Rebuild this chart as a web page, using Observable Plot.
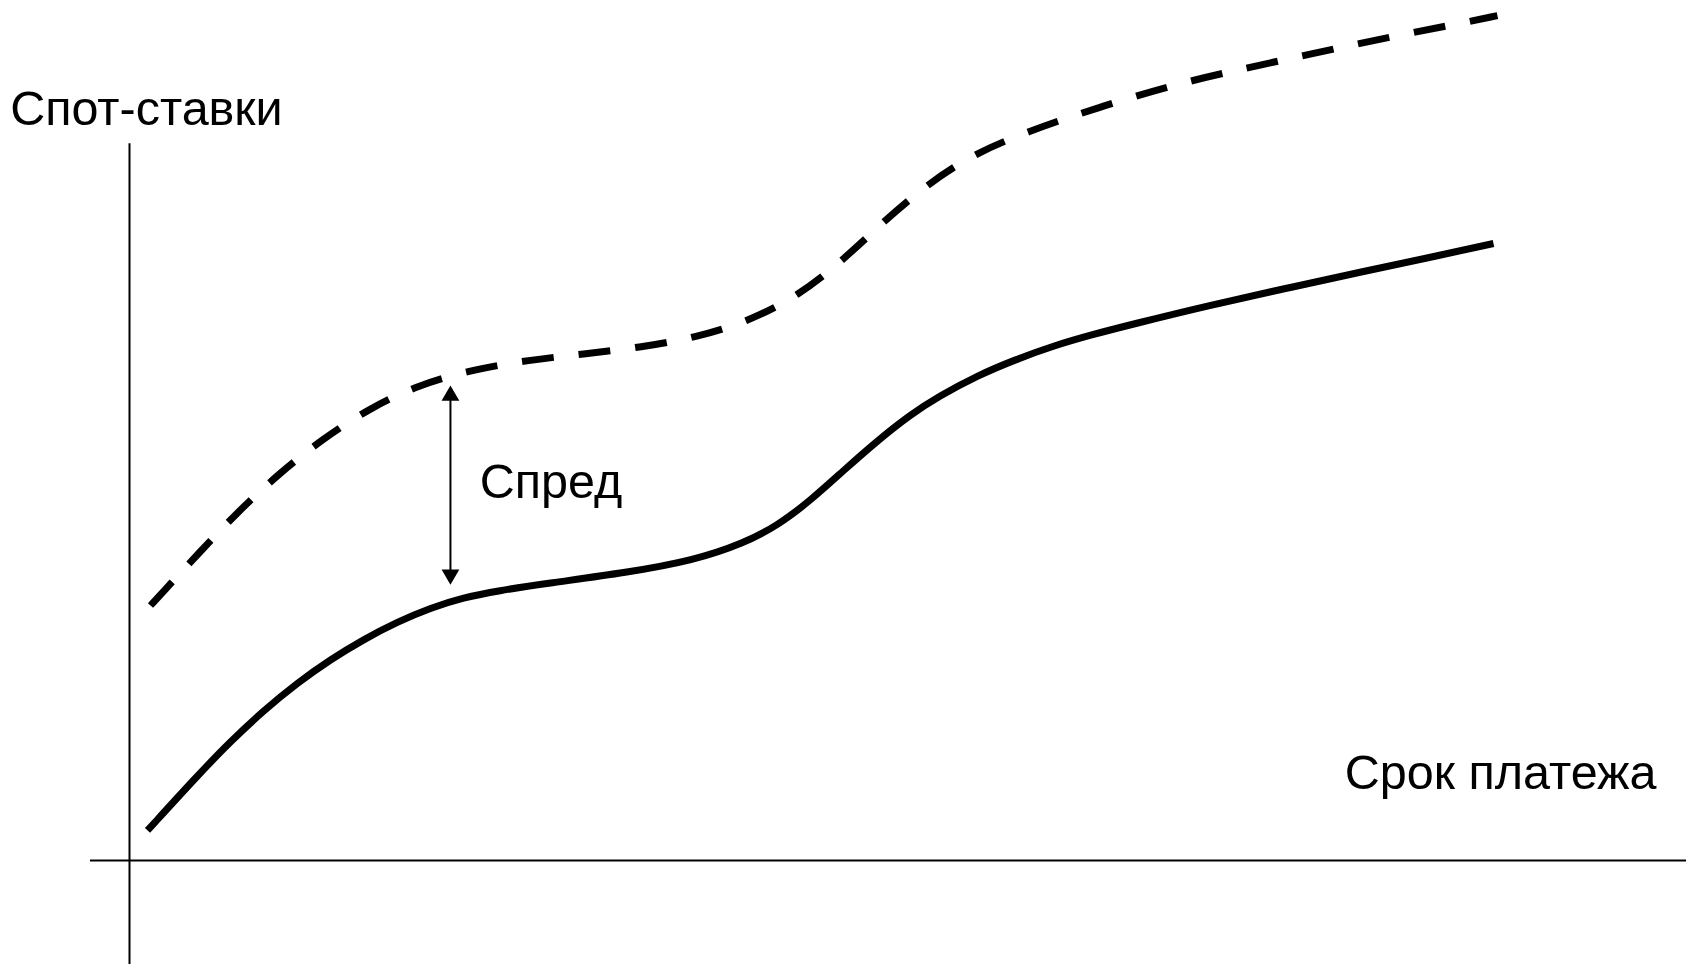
<!DOCTYPE html>
<html>
<head>
<meta charset="utf-8">
<script src="https://cdn.jsdelivr.net/npm/d3@7"></script>
<script src="https://cdn.jsdelivr.net/npm/@observablehq/plot@0.6"></script>
<style>
  html, body { margin: 0; padding: 0; background: #fff; }
  #chart svg { display: block; }
</style>
</head>
<body>
<div id="chart"></div>
<script>
// Schematic yield curves (arbitrary units): maturity vs spot rate
const solidMaturity = [0.132, 0.499, 0.740, 0.982, 1.232, 1.474, 1.716, 1.965, 2.207, 2.449, 2.698, 3.065, 3.651, 4.135, 4.501, 4.751, 4.993, 5.235, 5.484, 5.726, 5.931, 6.217, 6.496, 6.781, 7.060, 7.346, 7.911, 8.475, 9.040, 9.597, 10.0];
const solidRate     = [0.419, 1.186, 1.660, 2.090, 2.480, 2.805, 3.085, 3.330, 3.525, 3.668, 3.763, 3.868, 4.018, 4.186, 4.423, 4.674, 5.023, 5.442, 5.860, 6.223, 6.474, 6.767, 6.990, 7.186, 7.339, 7.479, 7.744, 7.981, 8.218, 8.441, 8.609];

const dashedMaturity = [0.154, 0.231, 0.502, 0.788, 1.096, 1.415, 1.756, 2.126, 2.522, 2.925, 3.328, 3.739, 4.150, 4.534, 4.901, 5.224, 5.517, 5.832, 6.173, 6.562, 7.141, 7.720, 8.123, 8.526, 8.930, 9.333, 9.736, 10.029];
const dashedRate     = [3.558, 3.718, 4.277, 4.856, 5.400, 5.881, 6.307, 6.642, 6.851, 6.983, 7.067, 7.158, 7.297, 7.521, 7.876, 8.365, 8.895, 9.411, 9.844, 10.158, 10.535, 10.855, 11.030, 11.197, 11.365, 11.525, 11.672, 11.790];

// Spread arrow (maturity, from rate, to rate)
const spreadArrow = [{x: 2.353, y1: 3.85, y2: 6.625}];

// Axis extents
const xAxisExtent = {x1: -0.286, x2: 11.42, y: 0};
const yAxisExtent = {y1: -1.45, y2: 10.0, x: 0};

// Labels
const labelTexts = ["Спот-ставки", "Спред", "Срок платежа"];
const labelX = [-0.875, 2.568, 8.91];
const labelY = [10.265, 5.063, 1.004];
const labels = labelTexts.map((t, i) => ({text: t, x: labelX[i], y: labelY[i]}));

const solid = solidMaturity.map((x, i) => ({x, y: solidRate[i]}));
const dashed = dashedMaturity.map((x, i) => ({x, y: dashedRate[i]}));

const chart = Plot.plot({
  width: 1686,
  height: 964,
  margin: 0,
  x: {domain: [0, 10], range: [129, 1493], axis: null},
  y: {domain: [0, 12], range: [860, 0], axis: null},
  style: {background: "#fff", overflow: "visible", fontFamily: "'Liberation Sans', Arial, sans-serif"},
  marks: [
    Plot.ruleY([xAxisExtent], {y: "y", x1: "x1", x2: "x2", stroke: "#000", strokeWidth: 2}),
    Plot.ruleX([yAxisExtent], {x: "x", y1: "y1", y2: "y2", stroke: "#000", strokeWidth: 2}),
    Plot.line(solid, {x: "x", y: "y", curve: "basis", stroke: "#000", strokeWidth: 7, strokeLinecap: "butt"}),
    Plot.line(dashed, {x: "x", y: "y", curve: "basis", stroke: "#000", strokeWidth: 7, strokeLinecap: "butt", strokeDasharray: "32,25"}),
    Plot.ruleX(spreadArrow, {x: "x", y1: (d) => d.y1 + 0.15, y2: (d) => d.y2 - 0.15, stroke: "#000", strokeWidth: 2}),
    Plot.dot(spreadArrow, {x: "x", y: "y2", symbol: "triangle", r: 6.6, fill: "#000", stroke: "none", dy: 10}),
    Plot.dot(spreadArrow, {x: "x", y: "y1", symbol: "triangle", r: 6.6, fill: "#000", stroke: "none", rotate: 180, dy: -10}),
    Plot.text(labels, {x: "x", y: "y", text: "text", textAnchor: "start", lineAnchor: "bottom", fontSize: 48.5, fill: "#000"})
  ]
});
document.getElementById("chart").appendChild(chart);
</script>
</body>
</html>
